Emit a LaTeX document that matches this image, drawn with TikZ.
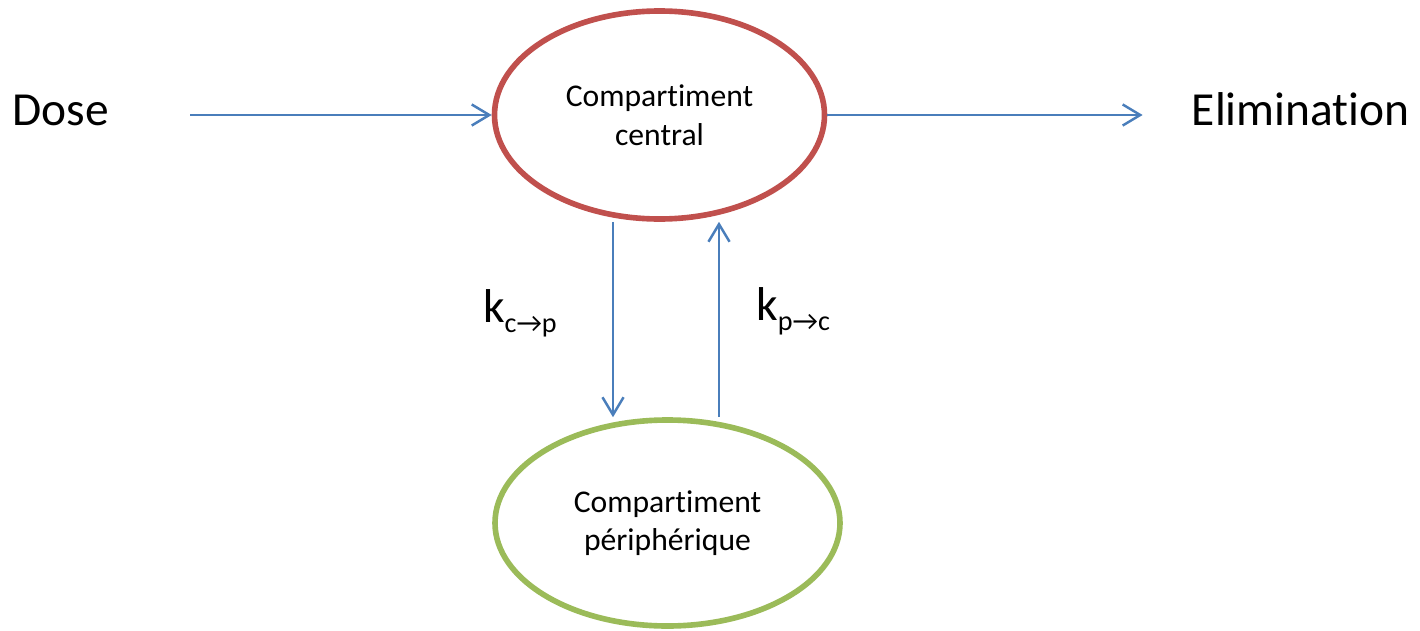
\documentclass[tikz,border=0pt]{standalone}
\usepackage{fontspec}
\setmainfont[Ligatures=NoCommon]{Carlito}
\usetikzlibrary{shapes.geometric,arrows.meta}

\definecolor{flowblue}{HTML}{4A7EBB}
\definecolor{centralred}{HTML}{C0504D}
\definecolor{periphgreen}{HTML}{9BBB59}

\tikzset{
	flow/.style={draw=flowblue, line width=1.4pt, -{Straight Barb[length=10pt,width=12pt]}},
	compart/.style={ellipse, line width=3.2pt, align=center, font=\fontsize{18}{22}\selectfont},
	bigtext/.style={inner sep=0pt, font=\fontsize{27}{32}\selectfont},
}
\newcommand{\ratek}[2]{k{\fontsize{16}{16}\selectfont\raisebox{-5.7pt}{#1→#2}}}

\begin{document}
\begin{tikzpicture}[scale=1]
		\useasboundingbox (0,0) rectangle (28.4,12.6);
		
		\node[compart, draw=centralred, minimum width=6.6cm, minimum height=4.16cm] (central) at (13.19,10.30) {Compartiment\\central};
		\node[compart, draw=periphgreen, minimum width=6.9cm, minimum height=4.12cm] (peri) at (13.35,2.14) {Compartiment\\périphérique};
		
		\node[bigtext, anchor=base west] (dose) at (0.24,10.1) {Dose};
		\node[bigtext, anchor=base east] (elim) at (28.2,10.1) {Elimination};
		
		\draw[flow, shorten <=1.62cm] (dose.east |- central.west) -- (central.west);
		\draw[flow, shorten >=0.98cm] (central.east) -- (central.east -| elim.west);
		
		\draw[flow] ([xshift=-0.93cm]central.south) -- ([xshift=-0.93cm]central.south |- peri.north)
			node[pos=0.47, left=1.1cm, bigtext] (kcp) {\ratek{c}{p}};
		\draw[flow] ([xshift=1.03cm]peri.north) -- ([xshift=1.03cm]peri.north |- central.south)
			node[pos=0.54, right=0.72cm, bigtext] (kpc) {\ratek{p}{c}};
	\end{tikzpicture}
\end{document}
